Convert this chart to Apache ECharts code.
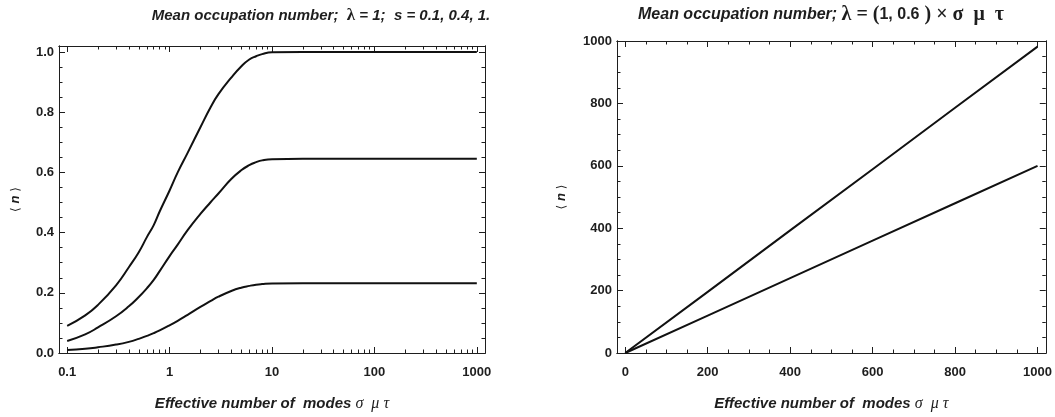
<!DOCTYPE html>
<html>
<head>
<meta charset="utf-8">
<script src="https://cdn.jsdelivr.net/npm/echarts@6/dist/echarts.min.js"></script>
<style>
  html, body { margin: 0; padding: 0; background: #ffffff; }
  #chart { width: 1055px; height: 417px; }
</style>
</head>
<body>
<div id="chart"></div>
<script>
// ---------- Left panel data (log x) ----------
const leftX = [0.1, 0.15, 0.2, 0.3, 0.4, 0.5, 0.6, 0.7, 0.8, 1, 1.2, 1.5, 2, 2.5, 3, 4, 5, 6, 7, 8, 10, 20, 100, 1000];
const leftS1 = [0.09, 0.125, 0.16, 0.225, 0.285, 0.335, 0.385, 0.425, 0.47, 0.54, 0.6, 0.665, 0.75, 0.815, 0.86, 0.915, 0.952, 0.975, 0.986, 0.993, 0.999, 1.0, 1.0, 1.0];
const leftS04 = [0.04, 0.062, 0.085, 0.122, 0.155, 0.186, 0.215, 0.243, 0.272, 0.322, 0.36, 0.408, 0.462, 0.5, 0.53, 0.578, 0.607, 0.624, 0.634, 0.64, 0.644, 0.645, 0.645, 0.645];
const leftS01 = [0.01, 0.014, 0.019, 0.028, 0.037, 0.047, 0.057, 0.066, 0.075, 0.092, 0.107, 0.127, 0.153, 0.172, 0.187, 0.206, 0.217, 0.223, 0.227, 0.229, 0.231, 0.232, 0.232, 0.232];

const leftXMajor = [0.1, 1, 10, 100, 1000];
const leftXLabels = ['0.1', '1', '10', '100', '1000'];
const leftXMinor = [0.2, 0.3, 0.4, 0.5, 0.6, 0.7, 0.8, 0.9,
                    2, 3, 4, 5, 6, 7, 8, 9,
                    20, 30, 40, 50, 60, 70, 80, 90,
                    200, 300, 400, 500, 600, 700, 800, 900];
const leftYMajor = [0, 0.2, 0.4, 0.6, 0.8, 1.0];
const leftYLabels = ['0.0', '0.2', '0.4', '0.6', '0.8', '1.0'];
const leftYMinor = [0.05, 0.1, 0.15, 0.25, 0.3, 0.35, 0.45, 0.5, 0.55, 0.65, 0.7, 0.75, 0.85, 0.9, 0.95];

// ---------- Right panel data (linear) ----------
const rightX = [0, 200, 400, 600, 800, 1000];
const rightL1 = [0, 196, 393, 589, 786, 982];
const rightL06 = [0, 120, 240, 360, 480, 600];

const rightXMajor = [0, 200, 400, 600, 800, 1000];
const rightXLabels = ['0', '200', '400', '600', '800', '1000'];
const rightXMinor = [50, 100, 150, 250, 300, 350, 450, 500, 550, 650, 700, 750, 850, 900, 950];
const rightYMajor = [0, 200, 400, 600, 800, 1000];
const rightYLabels = ['0', '200', '400', '600', '800', '1000'];
const rightYMinor = [50, 100, 150, 250, 300, 350, 450, 500, 550, 650, 700, 750, 850, 900, 950];

const titleLeft = '{b|Mean occupation number;  }{g|λ}{b| = 1;  s = 0.1, 0.4, 1.}';
const titleRight = '{b|Mean occupation number; }{g|λ = (}{n|1, 0.6}{g| ) × σ  μ  τ}';
const xName = '{b|Effective number of  modes }{g|σ  μ τ}';
const yName = '{p|⟨ }{n|n}{p| ⟩}';

const SANS = '"Liberation Sans", Arial, sans-serif';
const SERIF = '"Liberation Serif", "DejaVu Serif", serif';
const INK = '#1e1e1e';

function labelFor(majors, labels) {
  return function (v) {
    let best = 0, bd = Infinity;
    for (let i = 0; i < majors.length; i++) {
      const dd = Math.abs(v - majors[i]) / (Math.abs(majors[i]) + 1e-6);
      if (dd < bd) { bd = dd; best = i; }
    }
    return labels[best];
  };
}

function makeAxes(dim, gridIndex, type, min, max, major, labels, minor, nameGap) {
  const posA = dim === 'x' ? 'bottom' : 'left';
  const posB = dim === 'x' ? 'top' : 'right';
  const base = {
    type: type, gridIndex: gridIndex, min: min, max: max, offset: 0,
    axisLine: { show: true, onZero: false, lineStyle: { color: INK, width: 1 } },
    splitLine: { show: false },
    minorTick: { show: false },
    axisPointer: { show: false }
  };
  if (type === 'log') base.logBase = 10;
  const mk = (pos, ticks, len, showLabel, name) => {
    const a = Object.assign({}, base, {
      position: pos,
      axisTick: { show: true, inside: true, length: len, customValues: ticks, lineStyle: { color: INK, width: 1 } },
      axisLabel: showLabel ? {
        show: true, customValues: major, formatter: labelFor(major, labels),
        color: INK, fontFamily: SANS, fontWeight: 'bold', fontSize: 13,
        margin: dim === 'x' ? 13 : 5
      } : { show: false }
    });
    if (name) Object.assign(a, name);
    return a;
  };
  let nameCfg = null;
  if (dim === 'x') {
    nameCfg = {
      name: xName, nameLocation: 'middle', nameGap: nameGap,
      nameTextStyle: { rich: {
        b: { fontFamily: SANS, fontWeight: 'bold', fontStyle: 'italic', fontSize: 15, color: INK },
        g: { fontFamily: SERIF, fontStyle: 'italic', fontSize: 16, color: INK }
      } }
    };
  } else {
    nameCfg = {
      name: yName, nameLocation: 'middle', nameGap: nameGap, nameRotate: 90,
      nameTextStyle: { rich: {
        p: { fontFamily: '"DejaVu Sans", sans-serif', fontSize: 12, color: INK },
        n: { fontFamily: SANS, fontWeight: 'bold', fontStyle: 'italic', fontSize: 13, color: INK }
      } }
    };
  }
  return [
    mk(posA, major, 6, true, nameCfg),
    mk(posA, minor, 3.5, false, null),
    mk(posB, major, 6, false, null),
    mk(posB, minor, 3.5, false, null)
  ];
}

function pairs(xs, ys) { return xs.map((x, i) => [x, ys[i]]); }

function lineSeries(xi, yi, data, smooth) {
  return {
    type: 'line', xAxisIndex: xi, yAxisIndex: yi, data: data,
    showSymbol: false, symbol: 'none', smooth: smooth,
    lineStyle: { color: '#111', width: 2 }, itemStyle: { color: '#111' },
    silent: true, animation: false
  };
}

const xAxes = [].concat(
  makeAxes('x', 0, 'log', 0.0832, 1202, leftXMajor, leftXLabels, leftXMinor, 43),
  makeAxes('x', 1, 'value', -20, 1020, rightXMajor, rightXLabels, rightXMinor, 43)
);
const yAxes = [].concat(
  makeAxes('y', 0, 'value', 0, 1.02, leftYMajor, leftYLabels, leftYMinor, 37),
  makeAxes('y', 1, 'value', 0, 1000, rightYMajor, rightYLabels, rightYMinor, 49)
);

const chart = echarts.init(document.getElementById('chart'), null, { renderer: 'canvas' });
chart.setOption({
  animation: false,
  backgroundColor: '#ffffff',
  title: [
    {
      text: titleLeft, left: 316, top: 2, textAlign: 'center',
      textStyle: { rich: {
        b: { fontFamily: SANS, fontWeight: 'bold', fontStyle: 'italic', fontSize: 15, color: INK },
        g: { fontFamily: SERIF, fontSize: 17, color: INK }
      } }
    },
    {
      text: titleRight, left: 816, top: 0, textAlign: 'center',
      textStyle: { rich: {
        b: { fontFamily: SANS, fontWeight: 'bold', fontStyle: 'italic', fontSize: 16, color: INK },
        g: { fontFamily: SERIF, fontSize: 20, color: INK },
        n: { fontFamily: SANS, fontWeight: 'bold', fontSize: 16, color: INK }
      } }
    }
  ],
  grid: [
    { left: 59, top: 46, width: 426, height: 318, containLabel: false },
    { left: 617, top: 41, width: 430, height: 322, containLabel: false }
  ],
  xAxis: xAxes,
  yAxis: yAxes,
  series: [
    lineSeries(0, 0, pairs(leftX, leftS1), 0.5),
    lineSeries(0, 0, pairs(leftX, leftS04), 0.5),
    lineSeries(0, 0, pairs(leftX, leftS01), 0.5),
    lineSeries(4, 4, pairs(rightX, rightL1), false),
    lineSeries(4, 4, pairs(rightX, rightL06), false)
  ]
});
</script>
</body>
</html>
